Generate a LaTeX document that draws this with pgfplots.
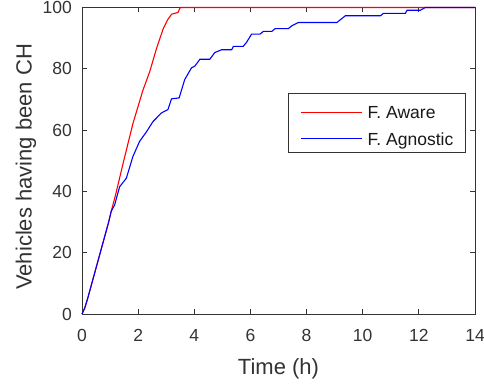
\documentclass[border=0pt]{standalone}
\usepackage{fontspec}
\setmainfont{Liberation Sans}
\usepackage{pgfplots}
\pgfplotsset{compat=1.18}
\definecolor{axgray}{gray}{0.2}
\begin{document}
\begin{tikzpicture}
\path[use as bounding box] (-82pt,-69pt) rectangle (402pt,314pt);
\begin{axis}[
  scale only axis,
  width=393pt, height=306.5pt,
  xmin=0, xmax=14, ymin=0, ymax=100,
  xtick={0,2,...,14}, ytick={0,20,...,100},
  tick align=inside,
  major tick length=5pt,
  clip=false,
  axis line style={axgray, line width=0.9pt},
  every tick/.style={axgray, line width=0.9pt},
  tick label style={font=\fontsize{17.5}{21}\selectfont, text=axgray, inner sep=0pt},
  /pgf/number format/assume math mode=true,
  xticklabel style={anchor=base, yshift=-27.5pt},
  yticklabel style={anchor=east, xshift=-10pt},
  xlabel={Time (h)},
  ylabel={Vehicles having been CH},
  label style={font=\fontsize{22}{26}\selectfont, text=axgray, inner sep=0pt},
  xlabel style={at={(axis description cs:0.5,-0.199)}, anchor=base},
  ylabel style={at={(axis description cs:-0.1285,0.48)}, anchor=base},
  legend style={at={(axis description cs:0.977,0.720)}, anchor=north east,
    draw=axgray, line width=0.9pt, font=\fontsize{17.5}{21}\selectfont,
    inner xsep=12.2pt, inner ysep=3pt, row sep=0.9pt, column sep=5.3pt,
    nodes={inner sep=0pt, text height=21.7pt, text depth=4.1pt, text=black!90}},
  legend cell align=left,
  legend image code/.code={\draw[#1, line width=1.1pt] (0pt,-2.5pt) -- (61pt,-2.5pt);},
]
\addplot[draw=red, line width=1.1pt] coordinates {
(0,0) (0.1,2) (0.2,5) (0.35,10) (0.5,15) (0.65,20) (0.8,25) (0.95,30) (1.04,33.5)
(1.2,39) (1.46,49) (1.81,62) (2.17,73) (2.41,79) (2.65,86.5) (2.89,93) (3.05,96)
(3.19,97.8) (3.42,98.4) (3.5,100) (14,100)};
\addlegendentry{F. Aware}
\addplot[draw=blue, line width=1.1pt] coordinates {
(0,0) (0.1,2) (0.2,5) (0.35,10) (0.5,15) (0.65,20) (0.8,25) (0.95,30) (1.04,33.5)
(1.16,35.5) (1.34,41.5) (1.58,44.3) (1.81,51.3) (2.05,56.3) (2.3,59.5) (2.53,62.8)
(2.83,65.6) (3.06,66.7) (3.19,70.2) (3.46,70.5) (3.66,76.5) (3.9,80.3) (4.02,80.9)
(4.2,83.1) (4.55,83.1) (4.73,85.3) (4.97,86.2) (5.33,86.2) (5.39,87.3) (5.74,87.3)
(5.86,88.6) (6.04,91.3) (6.34,91.3) (6.46,92.2) (6.76,92.2) (6.88,93.1) (7.35,93.1)
(7.47,94) (7.71,95.1) (9.08,95.1) (9.38,97.3) (10.63,97.3) (10.74,98.1) (11.52,98.1)
(11.58,99.1) (12.05,99.1) (12.23,100) (14,100)};
\addlegendentry{F. Agnostic}
\end{axis}
\end{tikzpicture}
\end{document}
